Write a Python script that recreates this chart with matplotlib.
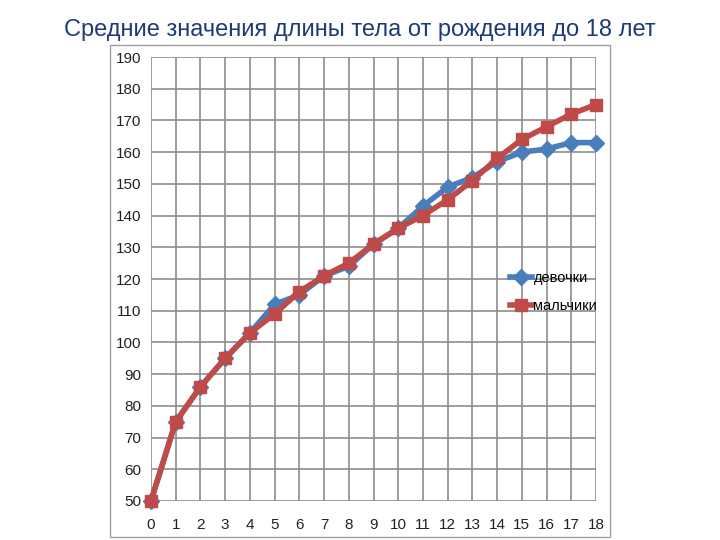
import numpy as np
import matplotlib.pyplot as plt
from matplotlib.patches import Rectangle

plt.rcParams['font.family'] = ['Liberation Sans', 'DejaVu Sans']

# возраст, лет
age = list(range(0, 19))
# средняя длина тела, см
girls = [50, 75, 86, 95, 103, 112, 115, 121, 124, 131, 136, 143, 149, 152, 157, 160, 161, 163, 163]
boys = [50, 75, 86, 95, 103, 109, 116, 121, 125, 131, 136, 140, 145, 151, 158, 164, 168, 172, 175]

fig = plt.figure(figsize=(7.2, 5.4), dpi=100)
fig.text(0.5, 0.945, 'Средние значения длины тела от рождения до 18 лет',
         ha='center', va='center', fontsize=17, color='#1f3a78')

# рамка диаграммы
fig.patches.append(Rectangle((110/720, 1-537/540), 500/720, 492/540,
                             transform=fig.transFigure, fill=False,
                             edgecolor='#a0a0a0', linewidth=1))

ax = fig.add_axes([151/720, 1-501/540, 445/720, 444/540])
ax.plot(age, girls, color='#4a7ebb', linewidth=4, marker='D', markersize=8,
        label='девочки', clip_on=False, zorder=3)
ax.plot(age, boys, color='#be4b48', linewidth=4, marker='s', markersize=9,
        label='мальчики', clip_on=False, zorder=4)

ax.set_xlim(0, 18)
ax.set_ylim(50, 190)
ax.set_xticks(age)
ax.set_yticks(range(50, 191, 10))
ax.grid(True, color='#8c8c8c', linewidth=1.2)
ax.set_axisbelow(True)
for s in ax.spines.values():
    s.set_visible(False)
ax.tick_params(length=0, labelsize=11, colors='#222222')
ax.tick_params(axis='y', pad=7)
ax.tick_params(axis='x', pad=12)

ax.legend(loc='center left', bbox_to_anchor=(497/720, 1-292/540),
          bbox_transform=fig.transFigure, frameon=False, handlelength=1.5,
          handletextpad=0.1, labelspacing=1.0, fontsize=10.5, markerscale=1.0)

plt.savefig('out.png', dpi=100)
